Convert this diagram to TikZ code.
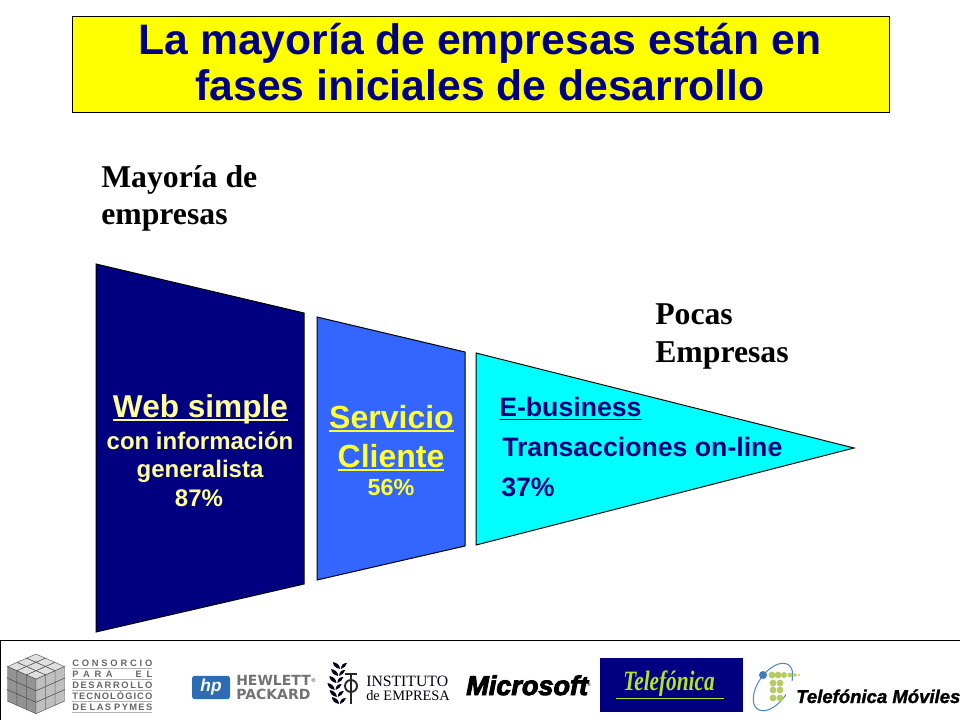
\documentclass[tikz,border=0pt]{standalone}
\usepackage{fontspec}
\usepackage{graphicx}
\setmainfont{Liberation Sans}
\newfontfamily\serifface{Liberation Serif}
\newfontfamily\msface[BoldItalicFeatures={FakeBold=3.5}]{Liberation Sans}
\newfontfamily\tmface[BoldItalicFeatures={FakeBold=1.5}]{Liberation Sans}
\newfontfamily\dvface{DejaVu Sans}
\newcommand\ulbar[2][1.6pt]{\leavevmode\setbox0\hbox{#2}\rlap{\raisebox{-3.2pt}{\rule{\wd0}{#1}}}\box0}
\definecolor{navy}{HTML}{000080}
\definecolor{midblue}{HTML}{3366FF}
\definecolor{aqua}{HTML}{00FFFF}
\definecolor{pureyel}{HTML}{FFFF00}
\definecolor{paleyel}{HTML}{FFFF99}
\definecolor{brightyel}{HTML}{FFFF33}
\definecolor{limegr}{HTML}{B4E61E}
\definecolor{dotgr}{HTML}{B4CC62}
\definecolor{hpblue}{HTML}{2C6CB4}
\newcommand\isocube[3]{%
 \pgfmathsetmacro\cx{36+(#1-#2)*9.5}%
 \pgfmathsetmacro\cy{654+(#1+#2)*4.2+#3*11.5}%
 \fill[gray!25,draw=black!70,line width=.3pt] (\cx,\cy)--(\cx+9.5,\cy+4.2)--(\cx,\cy+8.4)--(\cx-9.5,\cy+4.2)--cycle;
 \fill[gray!85,draw=black!70,line width=.3pt] (\cx-9.5,\cy+4.2)--(\cx,\cy+8.4)--(\cx,\cy+19.9)--(\cx-9.5,\cy+15.7)--cycle;
 \fill[gray!50,draw=black!70,line width=.3pt] (\cx+9.5,\cy+4.2)--(\cx,\cy+8.4)--(\cx,\cy+19.9)--(\cx+9.5,\cy+15.7)--cycle;
}
\tikzset{
 x=.75pt,y=-.75pt,
 funnel/.style={draw=black,line width=.75pt,line join=miter},
 titletxt/.style={font=\fontsize{32}{36}\selectfont\bfseries,text=navy,inner sep=0pt,anchor=base},
 sidenote/.style={font=\serifface\fontsize{23.8}{28}\selectfont\bfseries,text=black,inner sep=0pt,anchor=base west},
 paletxt/.style={font=\fontsize{18}{20}\selectfont\bfseries,text=paleyel,inner sep=0pt,anchor=base},
 cyantxt/.style={font=\fontsize{20}{22}\selectfont\bfseries,text=navy,inner sep=0pt,anchor=base west},
 conslab/.style={font=\fontsize{7}{7}\selectfont\bfseries,text=black!60,inner sep=0pt,anchor=base west},
 consline/.style={gray!60,line width=.4pt},
 logotxt/.style={inner sep=0pt,anchor=base west},
 dotg/.style={fill=dotgr,draw=none},
 leaf/.style={fill=black!80!navy,draw=none}
}
\begin{document}
\begin{tikzpicture}
\useasboundingbox (0,0) rectangle (960,720);
\fill[white] (0,0) rectangle (960,720);
% title
\node[draw=black,line width=.75pt,fill=pureyel,minimum width=612.75pt,minimum height=72pt,inner sep=0pt,anchor=north west] (titlebox) at (72,16) {};
\node[titletxt] (title1) at (480,55) {La mayoría de empresas están en};
\node[titletxt] (title2) at (480,101) {fases iniciales de desarrollo};
% side notes
\node[sidenote] (may1) at (101,188) {Mayoría de};
\node[sidenote] (may2) at (101,225) {empresas};
\node[sidenote] (poc1) at (655,325) {Pocas};
\node[sidenote] (poc2) at (655,362) {Empresas};
% funnel
\draw[funnel,fill=navy] (96,264)--(304,313)--(304,584)--(96,632)--cycle;
\draw[funnel,fill=midblue] (317,317)--(465,352)--(465,546)--(317,580)--cycle;
\draw[funnel,fill=aqua] (476,353)--(854,448)--(476,545)--cycle;
% first segment text
\node[paletxt,font=\fontsize{23.7}{26}\selectfont\bfseries] (web) at (200.5,417) {\ulbar{Web simple}};
\node[paletxt] (web2) at (200,449) {con información};
\node[paletxt] (web3) at (200,477) {generalista};
\node[paletxt] (web4) at (199,506) {87\%};
% second segment text
\node[paletxt,text=brightyel,font=\fontsize{24}{26}\selectfont\bfseries] (srv1) at (391.5,428) {\ulbar{Servicio}};
\node[paletxt,text=brightyel,font=\fontsize{24}{26}\selectfont\bfseries] (srv2) at (391,467) {\ulbar{Cliente}};
\node[paletxt,text=brightyel,font=\fontsize{17.5}{20}\selectfont\bfseries] (srv3) at (391,495) {56\%};
% third segment text
\node[cyantxt] (eb1) at (499,416) {\ulbar[1.2pt]{E-business}};
\node[cyantxt] (eb2) at (502,456) {Transacciones on-line};
\node[cyantxt] (eb3) at (501,496) {37\%};
% footer rule
\draw[black,line width=.75pt] (0,720)--(0,640)--(960,640);
% consorcio logo
\foreach \k in {2,1,0}{\foreach \i in {0,1,2}{\foreach \j in {0,1,2}{\isocube{\i}{\j}{\k}}}}
\node[conslab] (c1) at (72,666) {\makebox[60pt][s]{C\hfill O\hfill N\hfill S\hfill O\hfill R\hfill C\hfill I\hfill O}};
\node[conslab] (c2) at (72,677) {\makebox[60pt][s]{P\hspace{3.5pt}A\hspace{3.5pt}R\hspace{3.5pt}A\hfill E\hspace{3.5pt}L}};
\node[conslab] (c3) at (72,688) {\makebox[60pt][s]{D\hfill E\hfill S\hfill A\hfill R\hfill R\hfill O\hfill L\hfill L\hfill O}};
\node[conslab] (c4) at (72,699) {\makebox[60pt][s]{T\hfill E\hfill C\hfill N\hfill O\hfill L\hfill Ó\hfill G\hfill I\hfill C\hfill O}};
\node[conslab] (c5) at (72,710) {\makebox[60pt][s]{D\hspace{1pt}E\hfill L\hspace{1pt}A\hspace{1pt}S\hfill P\hspace{1pt}Y\hspace{1pt}M\hspace{1pt}E\hspace{1pt}S}};
\foreach \yy in {668.5,679.5,690.5,701.5,712.5}{\draw[consline] (72,\yy)--(152,\yy);}
% hp logo
\node[fill=hpblue,rounded corners=2pt,minimum width=28.5pt,minimum height=17.5pt,inner sep=0pt] (hp) at (211,687.5) {\fontsize{13}{13}\selectfont\bfseries\itshape\textcolor{white}{hp}};
\node[logotxt,font=\dvface\fontsize{10.5}{11}\selectfont\bfseries,text=black!55] (hp1) at (236,685) {HEWLETT\raisebox{2pt}{\fontsize{4}{4}\selectfont ®}};
\node[logotxt,font=\dvface\fontsize{10.5}{11}\selectfont\bfseries,text=black!55] (hp2) at (236,699) {PACKARD};
% instituto logo
\foreach \a in {0,...,5}{
 \pgfmathsetmacro\lx{339-\a*2.2+(\a>2?(\a-2)*4:0)}
 \pgfmathsetmacro\ly{704-\a*7}
 \fill[leaf] (\lx,\ly) .. controls (\lx-5,\ly-1) and (\lx-7,\ly-4) .. (\lx-7,\ly-7) .. controls (\lx-2,\ly-6) and (\lx,\ly-3) .. (\lx,\ly)--cycle;
 \fill[leaf] (\lx+1,\ly) .. controls (\lx+1,\ly-4) and (\lx+3,\ly-6) .. (\lx+7,\ly-6) .. controls (\lx+6,\ly-3) and (\lx+4,\ly-1) .. (\lx+1,\ly)--cycle;
}
\draw[black!85,line width=1.9pt] (351,674)--(351,704);
\draw[black!85,line width=1.4pt] (351,686) ellipse [x radius=6,y radius=6];
\draw[black!85,line width=.9pt] (345,674)--(357,674);
\node[logotxt,font=\serifface\fontsize{11.8}{13}\selectfont,text=black!85!navy] (ie1) at (366,686) {INSTITUTO};
\node[logotxt,font=\serifface\fontsize{10.8}{13}\selectfont,text=black!85!navy] (ie2) at (366,700) {de EMPRESA};
% microsoft
\node[logotxt,font=\msface\fontsize{20.3}{22}\selectfont\bfseries\itshape,text=black] (ms) at (466,695) {Microsoft};
\node[logotxt,font=\fontsize{3.5}{4}\selectfont,text=black] (msr) at (587,686) {®};
% telefonica
\node[fill=navy,minimum width=107.25pt,minimum height=40pt,inner sep=0pt,anchor=north west] (tf) at (600,658) {};
\node[logotxt,font=\serifface\fontsize{21}{22}\selectfont\bfseries\itshape,text=limegr] (tft) at (623,690) {\scalebox{.76}[1]{Telefónica}};
\draw[limegr,line width=.5pt] (616,698)--(724,698);
% telefonica moviles
\draw[hpblue!80,line width=.8pt,rotate around={55:(773,687)}] (773,687) ellipse [x radius=27,y radius=15];
\fill[white] (786,681) rectangle (800,698);
\foreach \px/\py/\pr in {772/675/3.4, 778/675/3.4, 784/675/3, 790/675/2.4, 795/675/1.8, 799/675/1.1, 773/683/3.4, 780/683/3.4, 773/690/3.4, 780/690/3.4, 773/698/3.4, 780/698/3.4}{
 \fill[dotg] (\px,\py) circle [radius=\pr];
}
\fill[hpblue!90!white] (763,675) circle [radius=4];
\node[logotxt,font=\tmface\fontsize{13.9}{16}\selectfont\bfseries\itshape,text=black] (tm) at (796,703) {Telefónica Móviles};
\end{tikzpicture}
\end{document}
